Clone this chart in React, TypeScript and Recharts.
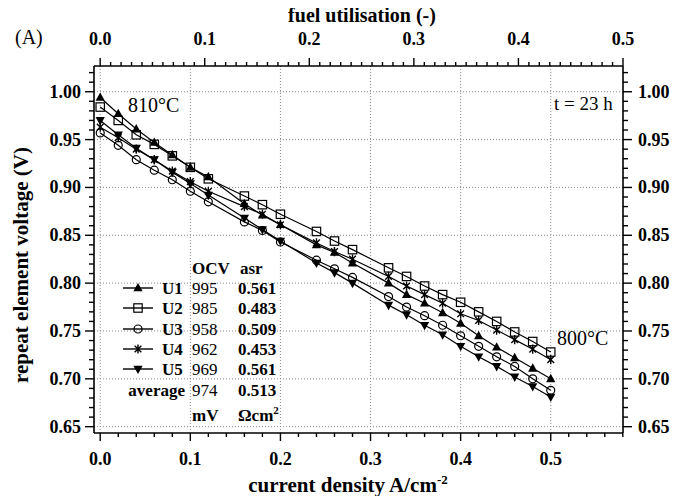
import type { FC } from "react";
import { LineChart, Line, XAxis, YAxis, ReferenceLine } from "recharts";

// repeat element V-i curves
const CURRENT = [0, 0.02, 0.04, 0.06, 0.08, 0.1, 0.12, 0.16, 0.18, 0.2, 0.24, 0.26, 0.28, 0.32, 0.34, 0.36, 0.38, 0.4, 0.42, 0.44, 0.46, 0.48, 0.5];
const U1 = [0.994, 0.977, 0.961, 0.947, 0.934, 0.921, 0.911, 0.883, 0.871, 0.861, 0.84, 0.832, 0.821, 0.8, 0.788, 0.779, 0.769, 0.758, 0.745, 0.733, 0.722, 0.711, 0.7];
const U2 = [0.984, 0.97, 0.955, 0.945, 0.933, 0.921, 0.909, 0.891, 0.882, 0.872, 0.854, 0.844, 0.835, 0.816, 0.807, 0.797, 0.788, 0.78, 0.77, 0.76, 0.749, 0.739, 0.728];
const U3 = [0.957, 0.944, 0.929, 0.918, 0.908, 0.896, 0.885, 0.864, 0.855, 0.843, 0.824, 0.815, 0.806, 0.786, 0.775, 0.766, 0.756, 0.745, 0.734, 0.723, 0.713, 0.7, 0.688];
const U4 = [0.963, 0.952, 0.94, 0.929, 0.917, 0.906, 0.896, 0.88, 0.872, 0.861, 0.842, 0.833, 0.825, 0.807, 0.797, 0.788, 0.779, 0.768, 0.761, 0.751, 0.741, 0.731, 0.72];
const U5 = [0.97, 0.955, 0.941, 0.929, 0.916, 0.904, 0.892, 0.868, 0.856, 0.844, 0.821, 0.811, 0.8, 0.777, 0.767, 0.756, 0.746, 0.734, 0.723, 0.713, 0.702, 0.692, 0.681];

const UNITS = ["U1", "U2", "U3", "U4", "U5"];
const SHAPES = ["triUp", "square", "circle", "star", "triDown"];
const OCV_MV = ["995", "985", "958", "962", "969"];
const ASR = ["0.561", "0.483", "0.509", "0.453", "0.561"];
const AVG_OCV = "974";
const AVG_ASR = "0.513";

const X_TICKS = [0, 0.1, 0.2, 0.3, 0.4, 0.5];
const FU_TICKS = [0, 0.1, 0.2, 0.3, 0.4, 0.5];
const Y_TICKS = [0.65, 0.7, 0.75, 0.8, 0.85, 0.9, 0.95, 1.0];

const steps = (from: number, to: number, step: number) => {
  const out: number[] = [];
  for (let k = 0; from + k * step <= to + 1e-9; k++) out.push(+(from + k * step).toFixed(4));
  return out;
};
const X_MINOR = steps(0, 0.58, 0.02);
const FU_MINOR = steps(0, 0.5, 0.01);
const Y_MINOR = steps(0.65, 1.02, 0.01);

const X_DOMAIN: [number, number] = [-0.0069, 0.5802];
const FU_DOMAIN: [number, number] = [-0.0059, 0.5];
const Y_DOMAIN: [number, number] = [0.6434, 1.0269];

const W = 673;
const H = 488;
const FONT = '"Liberation Serif", "Times New Roman", serif';

const data = CURRENT.map((x, i) => ({
  x,
  U1: U1[i],
  U2: U2[i],
  U3: U3[i],
  U4: U4[i],
  U5: U5[i],
}));

interface MarkerProps {
  shape: string;
  cx: number;
  cy: number;
}

const Marker: FC<MarkerProps> = ({ shape, cx, cy }) => {
  const s = 4.2;
  if (shape === "triUp")
    return <polygon points={`${cx},${cy - s * 1.2} ${cx - s * 1.1},${cy + s * 0.8} ${cx + s * 1.1},${cy + s * 0.8}`} fill="#000" />;
  if (shape === "triDown")
    return <polygon points={`${cx},${cy + s * 1.2} ${cx - s * 1.1},${cy - s * 0.8} ${cx + s * 1.1},${cy - s * 0.8}`} fill="#000" />;
  if (shape === "square")
    return <rect x={cx - s} y={cy - s} width={s * 2} height={s * 2} fill="none" stroke="#000" strokeWidth={1.2} />;
  if (shape === "circle")
    return <circle cx={cx} cy={cy} r={s * 0.95} fill="none" stroke="#000" strokeWidth={1.2} />;
  const d = s * 0.8;
  return (
    <path
      d={`M${cx},${cy - s * 1.1}L${cx},${cy + s * 1.1}M${cx - d},${cy - d}L${cx + d},${cy + d}M${cx - d},${cy + d}L${cx + d},${cy - d}`}
      stroke="#000"
      strokeWidth={1.4}
    />
  );
};

const isMajor = (majors: number[], v: number) => majors.some((m) => Math.abs(m - v) < 1e-6);

const makeTick = (side: string, majors: number[], digits: number) => (props: any) => {
  const { x, y, payload } = props;
  const v = payload.value as number;
  const major = isMajor(majors, v);
  const len = side === "left" || side === "right" ? (major ? 9 : 5) : major ? 8 : 4;
  const label = major ? v.toFixed(digits) : "";
  const txt = { fontFamily: FONT, fontWeight: 700, fontSize: 18, fill: "#000" };
  if (side === "bottom")
    return (
      <g>
        <line x1={x} y1={y} x2={x} y2={y + len} stroke="#000" strokeWidth={1.4} />
        {label && <text x={x} y={y + 32} textAnchor="middle" style={txt}>{label}</text>}
      </g>
    );
  if (side === "top")
    return (
      <g>
        <line x1={x} y1={y} x2={x} y2={y - len} stroke="#000" strokeWidth={1.4} />
        {label && <text x={x} y={y - 21} textAnchor="middle" style={txt}>{label}</text>}
      </g>
    );
  if (side === "left")
    return (
      <g>
        <line x1={x} y1={y} x2={x - len} y2={y} stroke="#000" strokeWidth={1.4} />
        {label && <text x={x - 13} y={y + 6} textAnchor="end" style={txt}>{label}</text>}
      </g>
    );
  return (
    <g>
      <line x1={x} y1={y} x2={x + len} y2={y} stroke="#000" strokeWidth={1.4} />
      {label && <text x={x + 15} y={y + 6} textAnchor="start" style={txt}>{label}</text>}
    </g>
  );
};

const axisLine = { stroke: "#000", strokeWidth: 1.6 };

const App: FC = () => {
  const rowY = [280, 300, 321, 341, 361];
  return (
    <div style={{ position: "relative", width: W, height: H, fontFamily: FONT }}>
      <LineChart width={W} height={H} data={data} margin={{ top: 0, right: 0, bottom: 0, left: 0 }}>
        <XAxis
          xAxisId="cd"
          dataKey="x"
          type="number"
          domain={X_DOMAIN}
          allowDataOverflow
          ticks={X_MINOR}
          interval={0}
          height={63}
          tickLine={false}
          tickSize={0}
          tickMargin={0}
          axisLine={axisLine}
          tick={makeTick("bottom", X_TICKS, 1)}
        />
        <XAxis
          xAxisId="fu"
          dataKey="x"
          orientation="top"
          type="number"
          domain={FU_DOMAIN}
          allowDataOverflow
          ticks={FU_MINOR}
          interval={0}
          height={58}
          tickLine={false}
          tickSize={0}
          tickMargin={0}
          axisLine={axisLine}
          tick={makeTick("top", FU_TICKS, 1)}
        />
        <YAxis
          yAxisId="v"
          type="number"
          domain={Y_DOMAIN}
          allowDataOverflow
          ticks={Y_MINOR}
          interval={0}
          width={86}
          tickLine={false}
          tickSize={0}
          tickMargin={0}
          axisLine={axisLine}
          tick={makeTick("left", Y_TICKS, 2)}
        />
        <YAxis
          yAxisId="v2"
          orientation="right"
          type="number"
          domain={Y_DOMAIN}
          allowDataOverflow
          ticks={Y_MINOR}
          interval={0}
          width={58}
          tickLine={false}
          tickSize={0}
          tickMargin={0}
          axisLine={axisLine}
          tick={makeTick("right", Y_TICKS, 2)}
        />
        {X_TICKS.map((v) => (
          <ReferenceLine key={`gx${v}`} xAxisId="cd" yAxisId="v" x={v} stroke="#8a8a8a" strokeDasharray="1 2" />
        ))}
        {Y_TICKS.map((v) => (
          <ReferenceLine key={`gy${v}`} xAxisId="cd" yAxisId="v" y={v} stroke="#8a8a8a" strokeDasharray="1 2" />
        ))}
        {/* invisible series so the top axis gets its own scale */}
        <Line
          xAxisId="fu"
          yAxisId="v2"
          dataKey="U1"
          stroke="none"
          dot={false}
          activeDot={false}
          isAnimationActive={false}
        />
        {UNITS.map((u, i) => (
          <Line
            key={u}
            xAxisId="cd"
            yAxisId="v"
            dataKey={u}
            type="linear"
            stroke="#000"
            strokeWidth={1.2}
            isAnimationActive={false}
            activeDot={false}
            dot={(p: any) => <Marker key={`${u}-${p.index}`} shape={SHAPES[i]} cx={p.cx} cy={p.cy} />}
          />
        ))}
      </LineChart>

      <svg
        width={W}
        height={H}
        style={{ position: "absolute", left: 0, top: 0, pointerEvents: "none", overflow: "visible" }}
      >
        <g style={{ fontFamily: FONT, fill: "#000" }}>
          <text x={7} y={36} fontSize={20}>(A)</text>
          <text x={354} y={14} fontSize={20} fontWeight={700} textAnchor="middle">fuel utilisation (-)</text>
          <text x={340} y={484} fontSize={21} fontWeight={700} textAnchor="middle">
            current density A/cm<tspan dy={-8} fontSize={13}>-2</tspan>
          </text>
          <text transform="translate(20,257) rotate(-90)" fontSize={21} fontWeight={700} textAnchor="middle">
            repeat element voltage (V)
          </text>
          <text x={120} y={104} fontSize={20}>810°C</text>
          <text x={546} y={102} fontSize={19}>t = 23 h</text>
          <text x={549} y={337} fontSize={20}>800°C</text>

          <text x={184} y={266} fontSize={17} fontWeight={700}>OCV</text>
          <text x={232} y={266} fontSize={17} fontWeight={700}>asr</text>
          {UNITS.map((u, i) => (
            <g key={u}>
              <line x1={115} y1={rowY[i]} x2={145} y2={rowY[i]} stroke="#000" strokeWidth={1.4} />
              <Marker shape={SHAPES[i]} cx={130} cy={rowY[i]} />
              <text x={154} y={rowY[i] + 6} fontSize={17} fontWeight={700}>{u}</text>
              <text x={184} y={rowY[i] + 6} fontSize={17}>{OCV_MV[i]}</text>
              <text x={230} y={rowY[i] + 6} fontSize={17} fontWeight={700}>{ASR[i]}</text>
            </g>
          ))}
          <text x={177} y={388} fontSize={17} fontWeight={700} textAnchor="end">average</text>
          <text x={184} y={388} fontSize={17}>{AVG_OCV}</text>
          <text x={230} y={388} fontSize={17} fontWeight={700}>{AVG_ASR}</text>
          <text x={184} y={413} fontSize={17} fontWeight={700}>mV</text>
          <text x={230} y={413} fontSize={17} fontWeight={700}>
            Ωcm<tspan dy={-7} fontSize={11}>2</tspan>
          </text>
        </g>
      </svg>
    </div>
  );
};

export default App;
